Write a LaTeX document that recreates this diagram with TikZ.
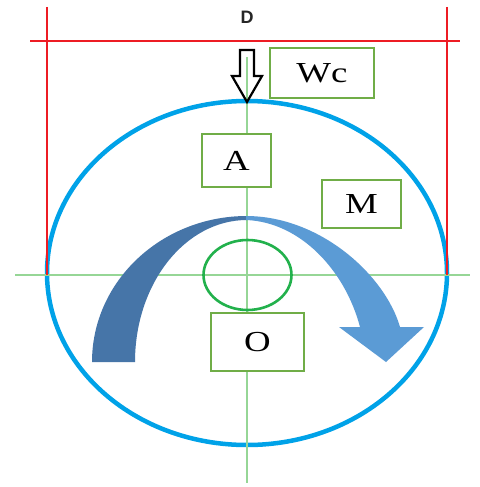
\documentclass[tikz,border=0pt]{standalone}
\usepackage{fontspec}
\usepackage{graphicx}
\setmainfont{Liberation Serif}
\newfontfamily\dfont{Liberation Sans}
\definecolor{ringblue}{RGB}{0,162,232}
\definecolor{dimred}{RGB}{237,28,36}
\definecolor{axisgreen}{RGB}{150,214,150}
\definecolor{boxgreen}{RGB}{112,173,71}
\definecolor{holegreen}{RGB}{34,177,76}
\definecolor{arrdark}{RGB}{70,117,168}
\definecolor{arrlight}{RGB}{91,155,213}
\tikzset{
  lbl/.style={draw=boxgreen, line width=1.3pt, fill=white, inner sep=0pt,
    font=\fontsize{29}{29}\selectfont},
  axisline/.style={axisgreen, line width=1.6pt},
  dimline/.style={dimred, line width=2.8pt}
}
\newcommand{\wide}[1]{\scalebox{1.27}[1]{#1}}
\begin{document}
\begin{tikzpicture}[x=1pt,y=1pt]
\useasboundingbox[fill=white] (0,0) rectangle (479,-487);
% outer ring
\draw[ringblue, line width=4.5pt] (247,-273) ellipse [x radius=200, y radius=172];
% axes
\draw[axisline] (15,-275) -- (470,-275);
\draw[axisline] (247,-57) -- (247,-483);
% dimension lines
\draw[dimline] (30,-41) -- (460,-41);
\draw[dimline] (47,-7) -- (47,-275);
\draw[dimline] (447,-7) -- (447,-275);
\node[font=\dfont\bfseries\fontsize{18}{18}\selectfont, text=black!85] (D) at (247,-17) {D};
% inner hole
\draw[holegreen, line width=2.6pt] (247.5,-275) ellipse [x radius=44, y radius=35];
% curved moment arrow
\fill[arrdark] (92,-362) arc[start angle=180, end angle=90, x radius=155, y radius=146]
  -- (247,-220) arc[start angle=90, end angle=180, x radius=112, y radius=142] -- cycle;
\fill[arrlight] (246,-216) .. controls (320,-216) and (385,-275) .. (400,-327)
  -- (424,-327) -- (386,-362) -- (339,-327) -- (360,-327)
  .. controls (345,-270) and (300,-222) .. (246,-220) -- cycle;
% hollow load arrow
\draw[black, line width=2.2pt, line join=miter] (240,-50) -- (254,-50) -- (254,-76) -- (262,-76)
  -- (247,-102) -- (232,-76) -- (240,-76) -- cycle;
% labels
\node[lbl, minimum width=104pt, minimum height=50pt] (Wc) at (322,-73) {\wide{Wc}};
\node[lbl, minimum width=69pt, minimum height=53pt] (A) at (236.5,-160.5) {\wide{A}};
\node[lbl, minimum width=79pt, minimum height=48pt] (M) at (361.5,-204) {\wide{M}};
\node[lbl, minimum width=93pt, minimum height=58pt] (O) at (257.5,-342) {\wide{O}};
\end{tikzpicture}
\end{document}
